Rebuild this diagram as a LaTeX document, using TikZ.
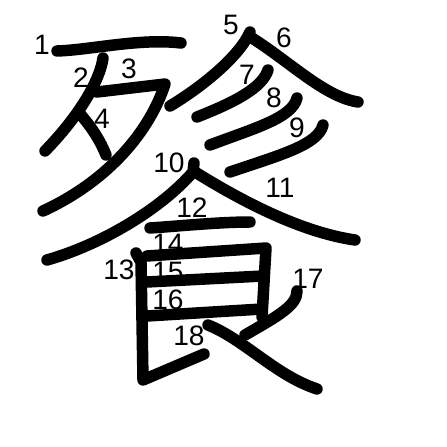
\documentclass[tikz,border=0pt]{standalone}
\usepackage{fontspec}
\setmainfont{Liberation Sans}
\tikzset{
  kstroke/.style={line width=9.8pt, line cap=round, line join=round},
  strokenum/.style={inner sep=0pt, font=\fontsize{24}{25}\selectfont}
}

\begin{document}
\begin{tikzpicture}[x=0.03cm, y=-0.03cm]
\useasboundingbox (0,0) rectangle (447,447);
% stroke numbers
\node[strokenum] (n1) at (42,45) {1};
\node[strokenum] (n2) at (81,78) {2};
\node[strokenum] (n3) at (129,69) {3};
\node[strokenum] (n4) at (102,119) {4};
\node[strokenum] (n5) at (231,25) {5};
\node[strokenum] (n6) at (284,38) {6};
\node[strokenum] (n7) at (247,75) {7};
\node[strokenum] (n8) at (274,98) {8};
\node[strokenum] (n9) at (297,128) {9};
\node[strokenum] (n10) at (169,163) {10};
\node[strokenum] (n11) at (280,188) {11};
\node[strokenum] (n12) at (192,208) {12};
\node[strokenum] (n13) at (119,270) {13};
\node[strokenum] (n14) at (168,244) {14};
\node[strokenum] (n15) at (168,272) {15};
\node[strokenum] (n16) at (168,300) {16};
\node[strokenum] (n17) at (308,279) {17};
\node[strokenum] (n18) at (189,336) {18};
% strokes
\draw[kstroke] (57.0,51.0) .. controls (90.0,50.0) and (140.0,38.0) .. (181.0,43.0);
\draw[kstroke] (103.0,58.0) .. controls (100.0,80.0) and (80.0,115.0) .. (45.0,151.0);
\draw[kstroke] (97.0,92.0) -- (165.0,84.0) .. controls (150.0,130.0) and (110.0,180.0) .. (43.0,211.0);
\draw[kstroke] (81.0,115.0) .. controls (92.0,128.0) and (100.0,140.0) .. (106.0,155.0);
\draw[kstroke] (250.0,32.0) .. controls (240.0,55.0) and (205.0,85.0) .. (170.0,106.0);
\draw[kstroke] (252.0,38.0) .. controls (290.0,62.0) and (325.0,97.0) .. (358.0,102.0);
\draw[kstroke] (268.0,70.0) .. controls (262.0,88.0) and (235.0,102.0) .. (197.0,117.0);
\draw[kstroke] (297.0,98.0) .. controls (292.0,118.0) and (255.0,128.0) .. (210.0,145.0);
\draw[kstroke] (323.0,125.0) .. controls (318.0,145.0) and (280.0,155.0) .. (230.0,172.0);
\draw[kstroke] (194.0,163.0) -- (193.0,172.0) .. controls (160.0,210.0) and (100.0,245.0) .. (47.0,260.0);
\draw[kstroke] (195.0,172.0) .. controls (240.0,200.0) and (300.0,232.0) .. (355.0,240.0);
\draw[kstroke] (150.0,228.0) .. controls (180.0,226.0) and (220.0,222.0) .. (250.0,222.0);
\draw[kstroke] (136.0,253.0) -- (141.0,262.0) -- (143.0,380.0) -- (204.0,354.0);
\draw[kstroke] (147.0,256.0) -- (266.0,248.0) -- (262.0,317.0);
\draw[kstroke] (147.0,282.0) -- (263.0,276.0);
\draw[kstroke] (147.0,316.0) -- (262.0,309.0);
\draw[kstroke] (297.0,291.0) .. controls (297.0,305.0) and (280.0,315.0) .. (245.0,335.0);
\draw[kstroke] (208.0,325.0) .. controls (245.0,340.0) and (275.0,375.0) .. (317.0,389.0);
\end{tikzpicture}
\end{document}
